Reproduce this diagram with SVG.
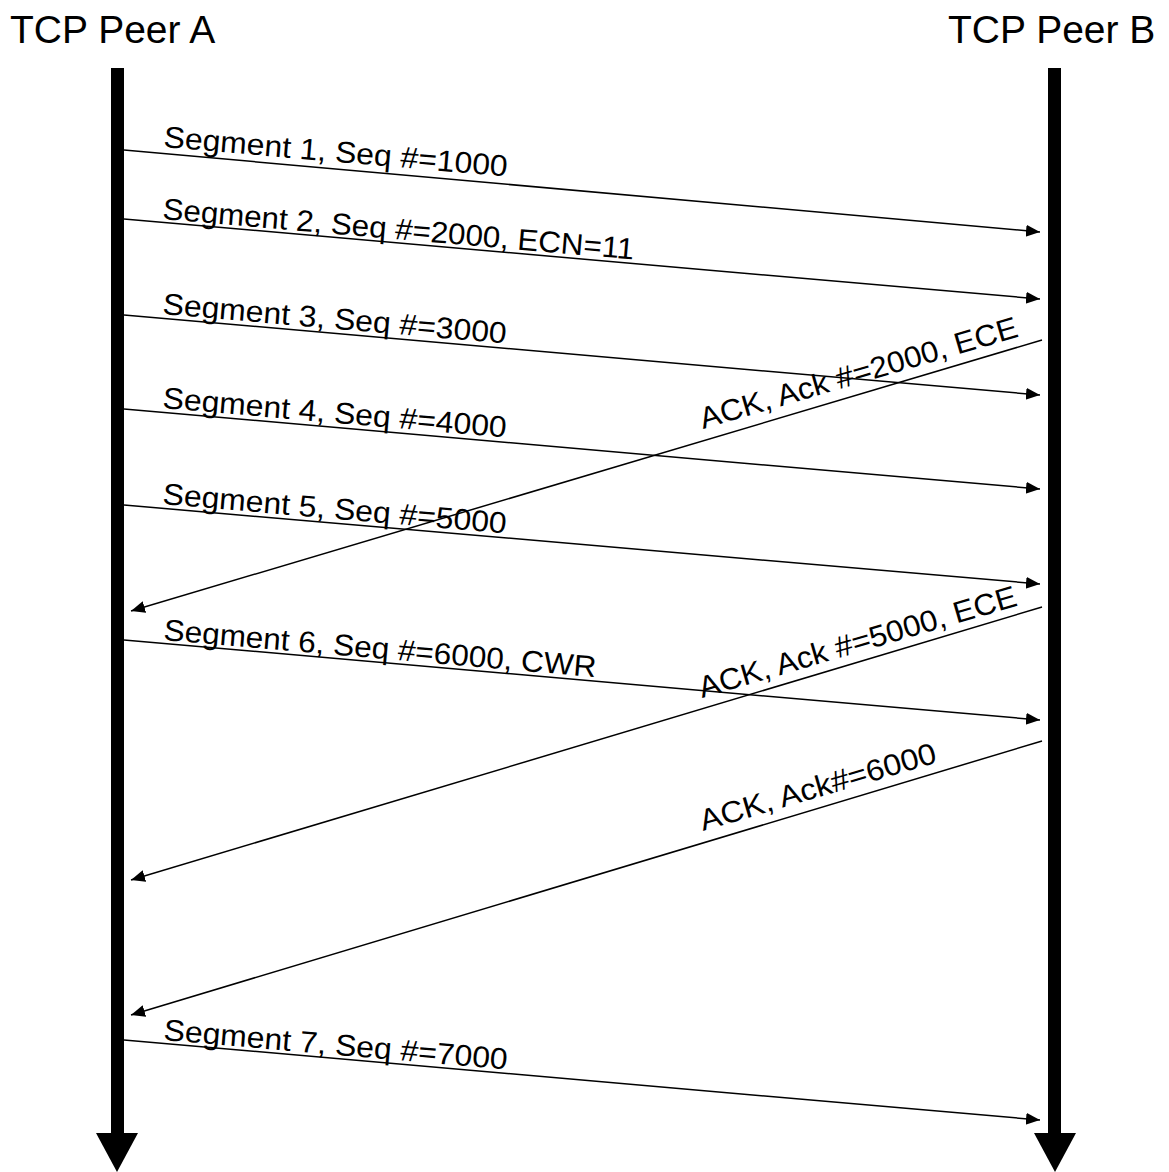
<svg xmlns="http://www.w3.org/2000/svg" width="1169" height="1172" viewBox="0 0 1169 1172">
<style>
.title{font-family:"Liberation Sans",Arial,sans-serif;font-size:39px;fill:#000}
.lbl{font-family:"Liberation Sans",Arial,sans-serif;font-size:30px;fill:#000}
.msg{stroke:#000;stroke-width:1.5;fill:none;marker-end:url(#ah)}
.life{fill:#000}
</style>
<defs>
<marker id="ah" markerUnits="userSpaceOnUse" markerWidth="15" markerHeight="13" refX="14" refY="6" orient="auto">
<path d="M0,0 L14,6 L0,12 z" fill="#000"/>
</marker>
</defs>
<rect width="1169" height="1172" fill="#fff"/>
<g id="peerA">
<text class="title" x="10" y="43">TCP Peer A</text>
<rect class="life" x="111" y="68" width="13" height="1066"/>
<polygon class="life" points="96,1133 138,1133 117,1172"/>
</g>
<g id="peerB">
<text class="title" x="948" y="43">TCP Peer B</text>
<rect class="life" x="1048" y="68" width="13" height="1066"/>
<polygon class="life" points="1034,1133 1076,1133 1055,1172"/>
</g>
<g id="connectors">
<line class="msg" x1="124" y1="150" x2="1040" y2="232"/>
<line class="msg" x1="124" y1="219" x2="1040" y2="299"/>
<line class="msg" x1="124" y1="315" x2="1040" y2="395"/>
<line class="msg" x1="124" y1="409" x2="1040" y2="489"/>
<line class="msg" x1="124" y1="505" x2="1040" y2="584"/>
<line class="msg" x1="124" y1="640" x2="1040" y2="720"/>
<line class="msg" x1="124" y1="1040" x2="1040" y2="1120"/>
<line class="msg" x1="1042" y1="340" x2="131" y2="611"/>
<line class="msg" x1="1042" y1="607" x2="131" y2="880"/>
<line class="msg" x1="1042" y1="741" x2="131" y2="1015"/>
</g>
<g id="labels">
<text class="lbl" transform="translate(163,147) rotate(4.9)" textLength="345" lengthAdjust="spacingAndGlyphs">Segment 1, Seq #=1000</text>
<text class="lbl" transform="translate(162,219) rotate(4.9)" textLength="473" lengthAdjust="spacingAndGlyphs">Segment 2, Seq #=2000, ECN=11</text>
<text class="lbl" transform="translate(162,314) rotate(4.9)" textLength="345" lengthAdjust="spacingAndGlyphs">Segment 3, Seq #=3000</text>
<text class="lbl" transform="translate(162,408) rotate(4.9)" textLength="345" lengthAdjust="spacingAndGlyphs">Segment 4, Seq #=4000</text>
<text class="lbl" transform="translate(162,504) rotate(4.9)" textLength="345" lengthAdjust="spacingAndGlyphs">Segment 5, Seq #=5000</text>
<text class="lbl" transform="translate(163,640) rotate(4.9)" textLength="434" lengthAdjust="spacingAndGlyphs">Segment 6, Seq #=6000, CWR</text>
<text class="lbl" transform="translate(163,1040) rotate(4.9)" textLength="345" lengthAdjust="spacingAndGlyphs">Segment 7, Seq #=7000</text>
<text class="lbl" transform="translate(703,429) rotate(-16.3)" textLength="330" lengthAdjust="spacingAndGlyphs">ACK, Ack #=2000, ECE</text>
<text class="lbl" transform="translate(702,698) rotate(-16.3)" textLength="330" lengthAdjust="spacingAndGlyphs">ACK, Ack #=5000, ECE</text>
<text class="lbl" transform="translate(703,831) rotate(-16.3)" textLength="245" lengthAdjust="spacingAndGlyphs">ACK, Ack#=6000</text>
</g>
</svg>
